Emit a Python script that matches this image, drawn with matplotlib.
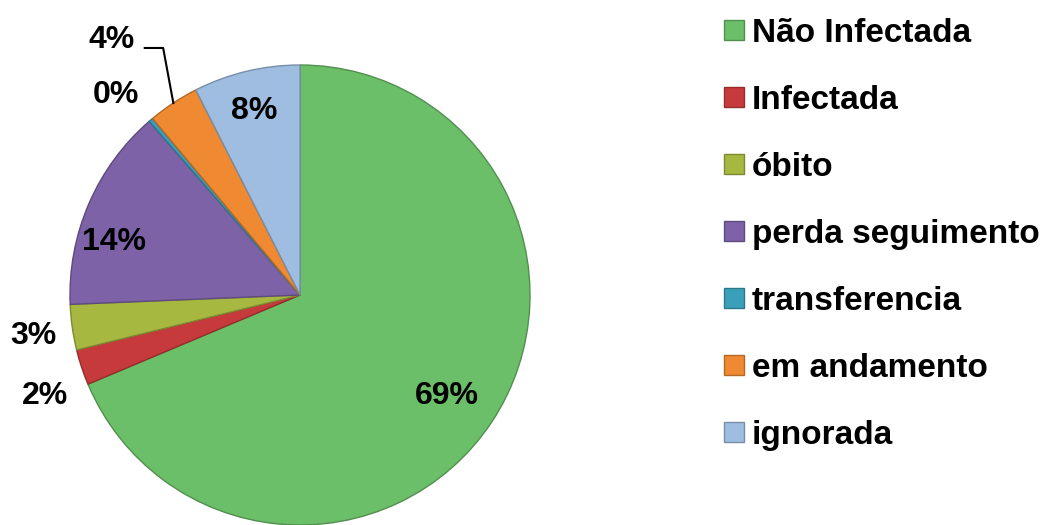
import matplotlib.pyplot as plt
import matplotlib.colors as mcolors
import numpy as np

# data
categories = ["Não Infectada", "Infectada", "óbito", "perda seguimento",
              "transferencia", "em andamento", "ignorada"]
values = [68.8, 2.5, 3.2, 14.3, 0.3, 3.6, 7.5]
pct_labels = ["69%", "2%", "3%", "14%", "0%", "4%", "8%"]

colors = ["#6cbf69", "#c73a3c", "#a7b840", "#7d62a8", "#3aa0b9", "#ef8a33", "#9fbde0"]
# label positions (pie data units, radius 1)
label_xy = [(0.64, -0.44), (-1.11, -0.44), (-1.16, -0.18), (-0.81, 0.23),
            (-0.80, 0.87), (-0.82, 1.11), (-0.20, 0.80)]

plt.rcParams['font.family'] = ['Liberation Sans', 'DejaVu Sans']

fig = plt.figure(figsize=(10.58, 5.25), dpi=100)
ax = fig.add_axes([70 / 1058, 0, 460 / 1058, 460 / 525])

wedges, _ = ax.pie(values, colors=colors, startangle=90, counterclock=False,
                   radius=1, wedgeprops=dict(linewidth=1.0))
for w, c in zip(wedges, colors):
    rgb = np.array(mcolors.to_rgb(c)) * 0.75
    w.set_edgecolor(rgb)

for txt, (x, y) in zip(pct_labels, label_xy):
    ax.text(x, y, txt, ha="center", va="center", fontsize=23,
            fontweight="bold", color="black")

# leader line for the small orange slice
w = wedges[5]
mid = np.deg2rad((w.theta1 + w.theta2) / 2)
ex, ey = np.cos(mid), np.sin(mid)
ax.plot([-0.675, -0.595, ex], [1.074, 1.074, ey], color="black", lw=1.5,
        clip_on=False)

ax.set_xlim(-1, 1)
ax.set_ylim(-1, 1)
ax.set_aspect("equal")
ax.axis("off")

fig.legend(wedges, categories, loc="upper left",
           bbox_to_anchor=(724 / 1058, 1 - 18 / 525), frameon=False,
           prop=dict(size=24, weight="bold"), handlelength=0.6, handleheight=0.53,
           handletextpad=0.24, labelspacing=1.08, borderpad=0, borderaxespad=0)

fig.savefig("out.png", dpi=100)
